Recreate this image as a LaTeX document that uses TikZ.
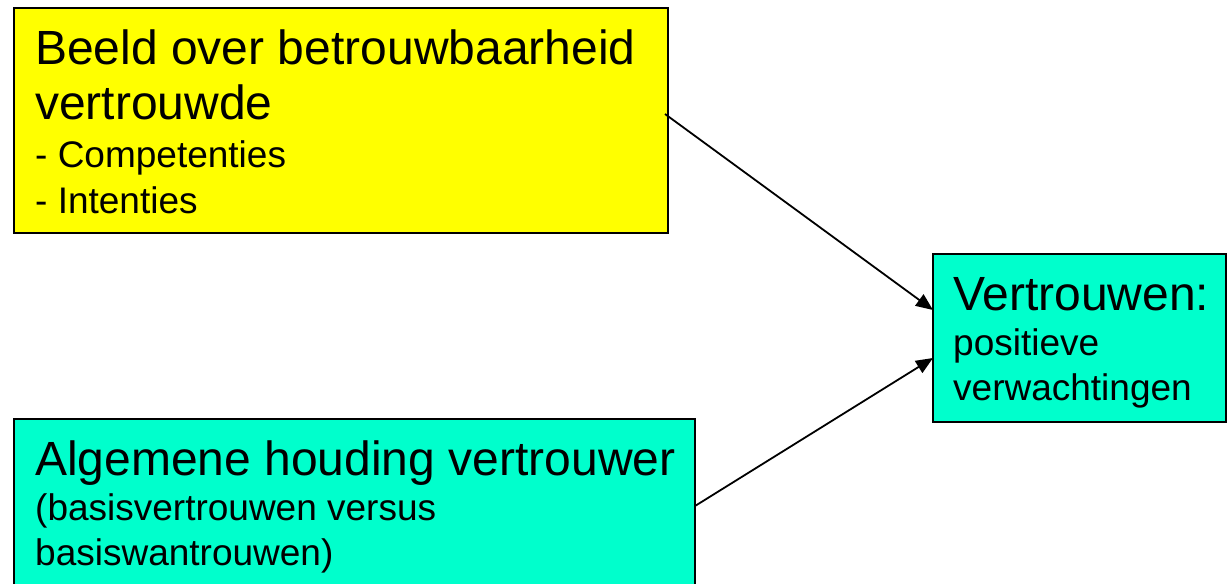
\documentclass[tikz,border=0pt]{standalone}
\usepackage{fontspec}
\setmainfont{Liberation Sans}
\usetikzlibrary{arrows.meta}
\definecolor{boxyellow}{HTML}{FFFF00}
\definecolor{boxaqua}{HTML}{00FFCC}
\begin{document}
\begin{tikzpicture}[x=1pt,y=1pt,
  box/.style={draw=black, line width=2pt, rectangle, inner sep=0pt, outer sep=0pt, anchor=north west},
  bigtext/.style={inner sep=0pt, anchor=base west, font=\fontsize{48}{56}\selectfont},
  smalltext/.style={inner sep=0pt, anchor=base west, font=\fontsize{37}{44}\selectfont},
  conn/.style={line width=1.8pt, -{Triangle[length=17pt,width=14pt]}}]
\useasboundingbox (0,0) rectangle (1227,-584);
% boxes
\node[box, fill=boxyellow, minimum width=654pt, minimum height=225pt] (top) at (14,-8) {};
\node[box, fill=boxaqua, minimum width=681pt, minimum height=190pt] (bot) at (14,-419) {};
\node[box, fill=boxaqua, minimum width=293pt, minimum height=168pt] (res) at (933,-254) {};
% texts
\node[bigtext] (t1) at (35,-64) {Beeld over betrouwbaarheid};
\node[bigtext] (t2) at (35,-119) {vertrouwde};
\node[smalltext] (t3) at (35,-167) {- Competenties};
\node[smalltext] (t4) at (35,-213) {- Intenties};
\node[bigtext] (b1) at (35,-475) {Algemene houding vertrouwer};
\node[smalltext] (b2) at (35,-520) {(basisvertrouwen versus};
\node[smalltext] (b3) at (35,-565) {basiswantrouwen)};
\node[bigtext] (r1) at (953,-310) {Vertrouwen:};
\node[smalltext] (r2) at (953,-355) {positieve};
\node[smalltext] (r3) at (953,-400) {verwachtingen};
% connectors
\coordinate (s1) at ([xshift=-3pt,yshift=6.5pt]top.east);
\coordinate (s2) at ([yshift=-87pt]bot.north east);
\draw[conn] (s1) -- ([yshift=28pt]res.west);
\draw[conn] (s2) -- ([yshift=-20pt]res.west);
\end{tikzpicture}
\end{document}
